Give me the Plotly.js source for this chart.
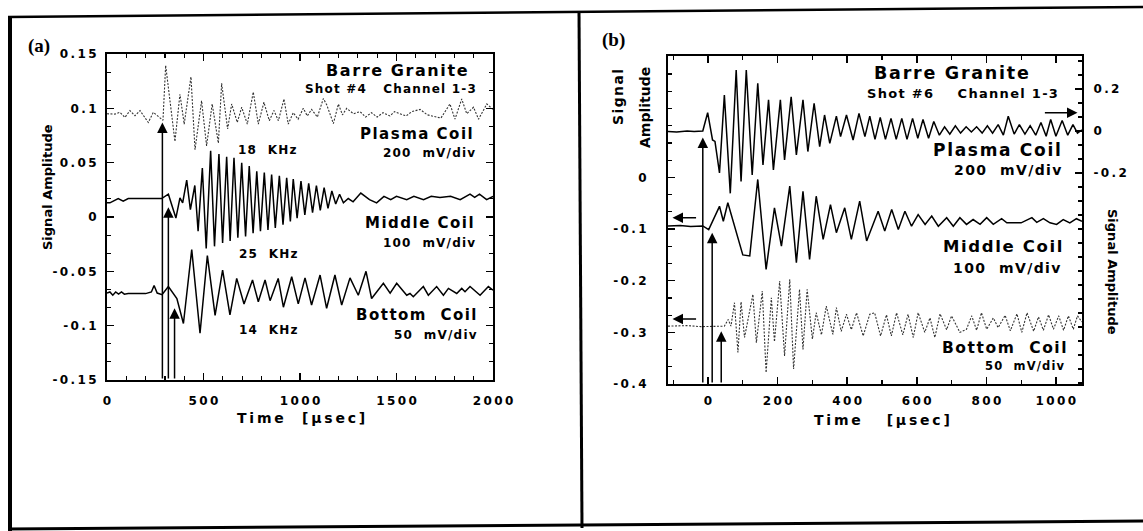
<!DOCTYPE html>
<html>
<head>
<meta charset="utf-8">
<script src="https://cdn.plot.ly/plotly-3.0.1.min.js"></script>
<style>html,body{margin:0;padding:0;background:#fff;}#chart{width:1143px;height:531px;}</style>
</head>
<body>
<div id="chart"></div>
<script>
// ---------------- DATA (time in µs, amplitude) ----------------
// Panel (a): Barre Granite, Shot #4
const plasmaA = [[0,0.095],[41,0.0947],[67,0.0963],[93,0.0917],[119,0.0979],[145,0.0932],[171,0.0979],[214,0.087],[240,0.0963],[271,0.0917],[290,0.089],[304,0.1395],[352,0.0695],[378,0.113],[400,0.0855],[435,0.129],[456,0.062],[490,0.107],[516,0.0655],[545,0.104],[577,0.068],[594,0.123],[625,0.081],[646,0.104],[675,0.087],[698,0.101],[727,0.0855],[758,0.115],[784,0.0855],[813,0.1056],[841,0.0886],[865,0.098],[888,0.0886],[917,0.1086],[939,0.0855],[965,0.096],[990,0.090],[1017,0.100],[1038,0.093],[1060,0.099],[1090,0.092],[1121,0.109],[1139,0.103],[1173,0.086],[1199,0.104],[1220,0.094],[1242,0.100],[1277,0.095],[1311,0.097],[1340,0.092],[1370,0.096],[1400,0.092],[1430,0.096],[1466,0.093],[1490,0.097],[1518,0.095],[1550,0.093],[1580,0.097],[1622,0.099],[1660,0.094],[1700,0.092],[1730,0.091],[1777,0.104],[1803,0.090],[1838,0.1086],[1864,0.095],[1899,0.101],[1925,0.090],[1968,0.104],[2000,0.099]];
const middleA = [[0,0.013],[15,0.013],[58,0.017],[84,0.0145],[110,0.017],[283,0.017],[318,0.021],[357,-0.001],[378,0.0176],[392,0.013],[413,0.034],[432,0.0068],[455,0.029],[472,-0.013],[494,0.045],[514,-0.029],[537,0.061],[557,-0.027],[580,0.058],[599,-0.024],[620,0.0555],[638,-0.022],[658,0.0546],[678,-0.019],[698,0.050],[718,-0.018],[737,0.047],[757,-0.015],[776,0.042],[795,-0.013],[815,0.041],[834,-0.012],[853,0.039],[872,-0.010],[893,0.038],[912,-0.007],[931,0.036],[950,-0.004],[965,0.035],[985,-0.001],[1005,0.033],[1025,0.002],[1045,0.031],[1065,0.004],[1085,0.029],[1105,0.006],[1125,0.027],[1145,0.008],[1165,0.024],[1185,0.012],[1205,0.021],[1225,0.013],[1250,0.017],[1275,0.014],[1315,0.022],[1360,0.016],[1397,0.013],[1435,0.019],[1470,0.016],[1500,0.019],[1553,0.016],[1590,0.019],[1640,0.016],[1680,0.019],[1725,0.018],[1780,0.019],[1830,0.016],[1881,0.021],[1905,0.018],[1930,0.021],[1967,0.016],[2000,0.019]];
const bottomA = [[0,-0.070],[15,-0.069],[30,-0.072],[45,-0.069],[60,-0.071],[75,-0.069],[90,-0.071],[110,-0.0705],[200,-0.0705],[230,-0.069],[244,-0.063],[260,-0.070],[285,-0.0715],[318,-0.064],[362,-0.075],[396,-0.098],[439,-0.030],[482,-0.107],[520,-0.0355],[560,-0.0905],[599,-0.0488],[637,-0.090],[672,-0.0565],[710,-0.080],[754,-0.058],[784,-0.078],[819,-0.058],[845,-0.077],[887,-0.0565],[914,-0.083],[957,-0.055],[991,-0.080],[1026,-0.056],[1060,-0.081],[1104,-0.0534],[1138,-0.084],[1181,-0.0534],[1216,-0.081],[1259,-0.056],[1302,-0.072],[1342,-0.050],[1371,-0.075],[1432,-0.061],[1467,-0.070],[1501,-0.061],[1553,-0.072],[1570,-0.0704],[1587,-0.0734],[1639,-0.064],[1665,-0.072],[1708,-0.064],[1743,-0.072],[1769,-0.0657],[1812,-0.0704],[1838,-0.0657],[1855,-0.0688],[1881,-0.064],[1933,-0.072],[1976,-0.064],[2000,-0.0673]];
// arrows in (a): [time, tip amplitude]
const arrowsA = [[287,0.087],[318,0.009],[350,-0.084]];

// Panel (b): Barre Granite, Shot #6
// plasma coil read on the right-hand axis
const plasmaB = [[-115,-0.003],[-90,-0.005],[-60,0.0],[-40,-0.003],[-15,0.0],[-1,0.087],[13,-0.043],[20,-0.05],[33,-0.20],[47,0.171],[64,-0.297],[81,0.29],[95,-0.241],[110,0.29],[127,-0.21],[143,0.227],[158,-0.162],[174,0.148],[188,-0.186],[208,0.148],[220,-0.138],[239,0.163],[254,-0.114],[273,0.148],[287,-0.098],[305,0.132],[321,-0.075],[335,0.076],[350,-0.059],[369,0.071],[381,-0.027],[398,0.076],[417,-0.043],[434,0.084],[451,-0.027],[465,0.071],[480,-0.04],[495,0.065],[510,-0.04],[526,0.06],[541,-0.04],[557,0.06],[572,-0.04],[588,0.06],[603,-0.035],[618,0.055],[634,-0.035],[649,0.045],[665,-0.02],[680,0.02],[695,-0.015],[711,0.025],[726,-0.01],[742,0.02],[757,-0.005],[772,0.02],[788,-0.01],[803,0.025],[818,-0.01],[834,0.03],[849,-0.02],[863,0.07],[880,-0.015],[895,0.03],[911,-0.015],[926,0.025],[942,-0.02],[957,0.04],[972,-0.025],[985,0.055],[1000,-0.025],[1018,0.05],[1034,-0.02],[1049,0.03],[1062,-0.01],[1075,0.005]];
const middleB = [[-115,-0.094],[-80,-0.093],[-50,-0.095],[-15,-0.094],[2,-0.101],[11,-0.088],[33,-0.056],[44,-0.085],[57,-0.049],[100,-0.150],[120,-0.152],[143,-0.004],[167,-0.178],[191,-0.059],[211,-0.133],[235,-0.017],[254,-0.165],[273,-0.027],[292,-0.159],[311,-0.0365],[331,-0.120],[352,-0.0526],[369,-0.107],[393,-0.059],[412,-0.120],[436,-0.046],[456,-0.123],[489,-0.0655],[508,-0.104],[528,-0.062],[547,-0.101],[566,-0.0655],[585,-0.0945],[604,-0.072],[624,-0.091],[643,-0.075],[662,-0.0945],[686,-0.078],[705,-0.0945],[724,-0.078],[743,-0.091],[762,-0.0816],[782,-0.091],[801,-0.078],[820,-0.091],[844,-0.080],[859,-0.088],[900,-0.088],[931,-0.078],[945,-0.087],[964,-0.080],[983,-0.088],[1002,-0.091],[1021,-0.0816],[1040,-0.088],[1059,-0.080],[1075,-0.085]];
const bottomB = [[-115,-0.288],[-60,-0.287],[-20,-0.289],[47,-0.288],[58,-0.275],[66,-0.288],[76,-0.2426],[86,-0.339],[95,-0.241],[105,-0.310],[129,-0.2265],[139,-0.320],[156,-0.220],[167,-0.378],[182,-0.233],[191,-0.318],[206,-0.2008],[220,-0.3457],[235,-0.1975],[246,-0.371],[263,-0.2168],[273,-0.333],[285,-0.2168],[300,-0.313],[311,-0.262],[326,-0.305],[340,-0.249],[359,-0.304],[369,-0.252],[383,-0.298],[398,-0.265],[412,-0.295],[427,-0.262],[446,-0.307],[465,-0.265],[479,-0.262],[496,-0.307],[513,-0.266],[527,-0.307],[542,-0.262],[560,-0.305],[575,-0.265],[590,-0.310],[604,-0.262],[623,-0.300],[638,-0.272],[652,-0.310],[667,-0.264],[686,-0.295],[700,-0.268],[724,-0.300],[743,-0.294],[758,-0.268],[772,-0.296],[786,-0.262],[801,-0.294],[820,-0.272],[834,-0.291],[854,-0.267],[869,-0.297],[888,-0.264],[902,-0.300],[917,-0.262],[936,-0.298],[950,-0.270],[964,-0.296],[979,-0.266],[993,-0.294],[1008,-0.268],[1022,-0.296],[1036,-0.268],[1050,-0.294],[1062,-0.268],[1075,-0.28]];
// vertical arrows in (b): [time, tip amplitude on left axis]
const arrowsB = [[-15,0.077],[12,-0.107],[38,-0.298]];
// horizontal axis-indicator arrows in (b): [tail time, tip time, amplitude on left axis]
const sideArrowsB = [[964,1062,0.125],[-30,-102,-0.078],[-30,-102,-0.274]];

// tick values / labels
const aXTicks = [0,500,1000,1500,2000];
const aYTicks = [-0.15,-0.1,-0.05,0,0.05,0.1,0.15];
const aYLabels = ['-0.15','-0.1','-0.05','0','0.05','0.1','0.15'];
const bXTicks = [0,200,400,600,800,1000];
const bYTicks = [-0.4,-0.3,-0.2,-0.1,0];
const bYLabels = ['-0.4','-0.3','-0.2','-0.1','0'];
const bY3Ticks = [-0.2,0,0.2];
const bY3Labels = ['-0.2','0','0.2'];

// ---------------- RENDERING ----------------
const W = 1143, H = 531;
const px = x => x / W;
const py = y => 1 - y / H;
const THIN = '\u2009', HAIR = '\u200A';
const ls = (s, sp) => String(s).replace(/ /g, '\u00A0').split('').join(sp);
const spaced = s => ls(s, THIN);
const DV = 'DejaVu Sans, Verdana, sans-serif';
const TICKF = {family: DV, size: 12, color: '#000', weight: 'bold'};

function trace(pairs, xa, ya, dotted) {
  return {
    x: pairs.map(p => p[0]), y: pairs.map(p => p[1]),
    xaxis: xa, yaxis: ya, type: 'scatter', mode: 'lines',
    line: dotted ? {color: '#333', width: 1.1, dash: '2px,1.5px'} : {color: '#000', width: 1.5},
    hoverinfo: 'skip', showlegend: false
  };
}

const data = [
  trace(plasmaA, 'x', 'y', true),
  trace(middleA, 'x', 'y', false),
  trace(bottomA, 'x', 'y', false),
  trace(plasmaB, 'x2', 'y3', false),
  trace(middleB, 'x2', 'y2', false),
  trace(bottomB, 'x2', 'y2', true),
];

const axBase = {
  showgrid: false, zeroline: false, showline: true, linecolor: '#000', linewidth: 2,
  ticks: 'inside', ticklen: 7, tickwidth: 1.5, tickcolor: '#000', tickfont: TICKF,
  tickmode: 'array', fixedrange: true
};
const minorBase = {tickmode: 'linear', tick0: 0, ticks: 'inside', ticklen: 4, tickcolor: '#000', tickwidth: 1.2};

const layout = {
  width: W, height: H, margin: {l: 0, r: 0, t: 0, b: 0},
  paper_bgcolor: '#fff', plot_bgcolor: 'rgba(0,0,0,0)', showlegend: false,
  font: {family: DV, color: '#000'},
  xaxis: Object.assign({}, axBase, {
    domain: [px(107), px(493)], range: [0, 2000], anchor: 'y', mirror: 'ticks',
    tickvals: aXTicks, ticktext: aXTicks.map(spaced), ticklabelstandoff: 9,
    minor: Object.assign({dtick: 100}, minorBase)
  }),
  yaxis: Object.assign({}, axBase, {
    domain: [py(380), py(54)], range: [-0.15, 0.15], anchor: 'x', mirror: 'ticks',
    tickvals: aYTicks, ticktext: aYLabels.map(spaced), ticklabelstandoff: 6,
    minor: Object.assign({dtick: 0.05 / 3}, minorBase)
  }),
  xaxis2: Object.assign({}, axBase, {
    domain: [px(668), px(1082)], range: [-115, 1075], anchor: 'y2', mirror: 'ticks',
    tickvals: bXTicks, ticktext: bXTicks.map(spaced), ticklabelstandoff: 5,
    minor: Object.assign({dtick: 100}, minorBase)
  }),
  yaxis2: Object.assign({}, axBase, {
    domain: [py(384), py(56)], range: [-0.4, 0.235], anchor: 'x2',
    tickvals: bYTicks, ticktext: bYLabels.map(spaced), ticklabelstandoff: 17,
    minor: Object.assign({dtick: 0.1 / 3}, minorBase)
  }),
  yaxis3: Object.assign({}, axBase, {
    overlaying: 'y2', side: 'right', anchor: 'x2', range: [-1.205, 0.357],
    tickvals: bY3Ticks, ticktext: bY3Labels.map(spaced), ticklabelstandoff: 7,
    minor: Object.assign({dtick: 0.2 / 3}, minorBase)
  }),
  annotations: [],
  shapes: []
};

const ann = layout.annotations;
function txt(text, x, y, size, xanchor, opts) {
  ann.push(Object.assign({
    text: text, xref: 'paper', yref: 'paper', x: px(x), y: py(y),
    xanchor: xanchor || 'center', yanchor: 'middle', showarrow: false, borderpad: 0,
    font: {family: DV, size: size, color: '#000', weight: 'bold'}
  }, opts || {}));
}

// panel labels
const SERIF = {family: 'Liberation Serif, Times New Roman, serif', size: 19, weight: 'bold', color: '#000'};
txt('(a)', 39, 46, 19, 'center', {font: SERIF});
txt('(b)', 613, 40, 19, 'center', {font: SERIF});

// panel (a) text
txt(ls('Barre Granite', HAIR), 469, 70, 16, 'right');
txt(ls('Shot #4   Channel 1-3', HAIR), 477, 89, 12, 'right');
txt(ls('Plasma Coil', HAIR), 474, 134, 15, 'right');
txt(ls('200  mV/div', HAIR), 476, 153, 12, 'right');
txt(ls('18  KHz', HAIR), 267, 150, 12, 'center');
txt(ls('Middle Coil', HAIR), 475, 223, 15, 'right');
txt(ls('100  mV/div', HAIR), 476, 243, 12, 'right');
txt(ls('25  KHz', HAIR), 268, 254, 12, 'center');
txt(ls('Bottom  Coil', HAIR), 478, 315, 15, 'right');
txt(ls('50  mV/div', HAIR), 478, 335, 12, 'right');
txt(ls('14  KHz', HAIR), 268, 330, 12, 'center');
txt('Signal Amplitude', 47, 187, 13, 'center', {textangle: -90});
txt(ls('Time  [µsec]', THIN), 301, 418, 14, 'center');

// panel (b) text
txt(ls('Barre Granite', HAIR), 951, 73, 17.5, 'center');
txt(ls('Shot #6    Channel 1-3', HAIR), 962, 93, 13, 'center');
txt(ls('Plasma Coil', HAIR), 1062, 150, 17, 'right');
txt(ls('200  mV/div', HAIR), 1062, 170, 14, 'right');
txt(ls('Middle Coil', HAIR), 1063, 247, 16.5, 'right');
txt(ls('100  mV/div', HAIR), 1061, 268, 14, 'right');
txt(ls('Bottom  Coil', HAIR), 1068, 348, 15.5, 'right');
txt(ls('50  mV/div', HAIR), 1066, 366, 11.5, 'right');
txt(ls('Signal', HAIR), 618, 97, 14, 'center', {textangle: -90});
txt('Amplitude', 645, 108, 14, 'center', {textangle: -90});
txt('Signal Amplitude', 1113, 272, 13, 'center', {textangle: 90});
txt(ls('Time   [µsec]', THIN), 882, 420, 14, 'center');

// arrows
function arrow(xref, yref, x, y, ax, ay) {
  ann.push({text: '', xref: xref, yref: yref, x: x, y: y, axref: xref, ayref: yref, ax: ax, ay: ay,
    showarrow: true, arrowhead: 2, arrowsize: 1.4, arrowwidth: 1.5, arrowcolor: '#000', standoff: 0, startstandoff: 0});
}
arrowsA.forEach(a => arrow('x', 'y', a[0], a[1], a[0], -0.15));
arrowsB.forEach(a => arrow('x2', 'y2', a[0], a[1], a[0], -0.4));
sideArrowsB.forEach(a => arrow('x2', 'y2', a[1], a[2], a[0], a[2]));

// outer frame of the scanned figure
const frame = [
  [8, 17, 1143, 7, 2.5],
  [10, 16, 10, 531, 4],
  [579, 11, 582, 528, 3],
  [8, 529, 1143, 521, 3]
];
frame.forEach(f => layout.shapes.push({type: 'line', xref: 'paper', yref: 'paper',
  x0: px(f[0]), y0: py(f[1]), x1: px(f[2]), y1: py(f[3]), line: {color: '#000', width: f[4]}}));

Plotly.newPlot('chart', data, layout, {staticPlot: true, displayModeBar: false});
</script>
</body>
</html>
